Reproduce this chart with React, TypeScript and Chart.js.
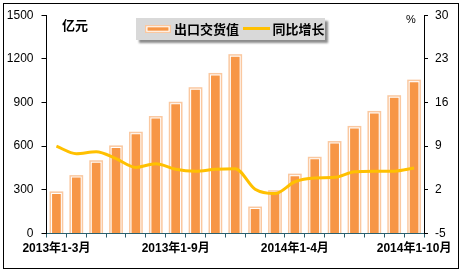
import React, { useEffect, useRef } from "react";
import { Chart, registerables } from "chart.js";

Chart.register(...registerables);

const categories = [
  "2013年1-3月", "2013年1-4月", "2013年1-5月", "2013年1-6月", "2013年1-7月",
  "2013年1-8月", "2013年1-9月", "2013年1-10月", "2013年1-11月", "2013年1-12月",
  "2014年1-2月", "2014年1-3月", "2014年1-4月", "2014年1-5月", "2014年1-6月",
  "2014年1-7月", "2014年1-8月", "2014年1-9月", "2014年1-10月",
];
const exportValues = [272, 384, 486, 588, 682, 790, 888, 988, 1086, 1215, 168, 280, 394, 510, 618, 722, 825, 933, 1040];
const growthValues = [9.0, 7.8, 8.1, 7.0, 5.6, 6.2, 5.3, 5.0, 5.3, 5.4, 2.1, 1.4, 3.3, 3.9, 4.0, 4.9, 5.0, 5.0, 5.5];
const leftTicks = { min: 0, max: 1500, step: 300 };
const rightTicks = { min: -5, max: 30, step: 7 };
const seriesNames = ["出口交货值", "同比增长"];
const leftUnit = "亿元";
const rightUnit = "%";

const ORANGE = "#F79646";
const PEACH = "#FAC8A0";
const GOLD = "#FFC000";
const AXIS_TEAL = "#2B6170";
const LATIN = '"Liberation Sans", Arial, "Noto Sans CJK SC", sans-serif';
const CJK = '"Noto Sans CJK SC", "Liberation Sans", sans-serif';

const barFramePlugin = {
  id: "barFrame",
  beforeDatasetDraw(chart: any, args: any) {
    const meta = args.meta;
    if (meta.type !== "bar") return;
    const ctx = chart.ctx;
    ctx.save();
    meta.data.forEach((el: any) => {
      const { x, y, base, width } = el.getProps(["x", "y", "base", "width"], true);
      ctx.fillStyle = PEACH;
      ctx.fillRect(x - width / 2 - 2.5, y - 2.5, width + 5, base - y + 2.5);
      ctx.fillStyle = "#ffffff";
      ctx.fillRect(x - width / 2 - 1, y - 1, width + 2, base - y + 1);
    });
    ctx.restore();
  },
};

const decorPlugin = {
  id: "decor",
  afterDraw(chart: any) {
    const ctx = chart.ctx;
    ctx.save();
    ctx.strokeStyle = "#000";
    ctx.lineWidth = 1;
    ctx.strokeRect(3.5, 3.5, 455, 265);

    ctx.fillStyle = "#000";
    ctx.font = `bold 13px ${CJK}`;
    ctx.textBaseline = "middle";
    ctx.textAlign = "left";
    ctx.fillText(leftUnit, 62, 25);
    ctx.font = `11px ${LATIN}`;
    ctx.textAlign = "center";
    ctx.fillText(rightUnit, 411, 19.5);

    ctx.save();
    ctx.shadowColor = "rgba(0,0,0,0.45)";
    ctx.shadowOffsetX = 3;
    ctx.shadowOffsetY = 3;
    ctx.shadowBlur = 2;
    ctx.fillStyle = "#d9d9d9";
    ctx.fillRect(136, 18, 189, 22);
    ctx.restore();

    ctx.fillStyle = PEACH;
    ctx.fillRect(145, 25, 26, 8);
    ctx.fillStyle = "#fff";
    ctx.fillRect(146.3, 26.3, 23.4, 5.4);
    ctx.fillStyle = ORANGE;
    ctx.fillRect(147.5, 27.3, 21, 3.4);

    ctx.fillStyle = "#000";
    ctx.font = `bold 13px ${CJK}`;
    ctx.textAlign = "left";
    ctx.textBaseline = "middle";
    ctx.fillText(seriesNames[0], 174, 29.5);

    ctx.strokeStyle = GOLD;
    ctx.lineWidth = 3;
    ctx.beginPath();
    ctx.moveTo(243, 28.5);
    ctx.lineTo(270, 28.5);
    ctx.stroke();

    ctx.fillText(seriesNames[1], 272.5, 29.5);
    ctx.restore();
  },
};

export default function App() {
  const ref = useRef<HTMLCanvasElement>(null);

  useEffect(() => {
    if (!ref.current) return;
    const chart = new Chart(ref.current, {
      type: "bar",
      data: {
        labels: categories,
        datasets: [
          {
            type: "line",
            label: seriesNames[1],
            data: growthValues,
            yAxisID: "y1",
            borderColor: GOLD,
            backgroundColor: GOLD,
            borderWidth: 3,
            pointRadius: 0,
            cubicInterpolationMode: "monotone",
            order: 0,
          } as any,
          {
            type: "bar",
            label: seriesNames[0],
            data: exportValues,
            yAxisID: "y",
            backgroundColor: ORANGE,
            borderWidth: 0,
            barPercentage: 0.44,
            categoryPercentage: 1,
            order: 1,
          },
        ],
      },
      options: {
        responsive: false,
        animation: false,
        devicePixelRatio: 1,
        layout: { padding: { left: 0, right: 0, top: 14, bottom: 0 } },
        plugins: { legend: { display: false }, tooltip: { enabled: false } },
        scales: {
          x: {
            offset: true,
            grid: { offset: true, drawOnChartArea: false, drawTicks: true, tickLength: 4, color: AXIS_TEAL },
            border: { color: AXIS_TEAL, width: 1 },
            ticks: {
              autoSkip: false,
              maxRotation: 0,
              minRotation: 0,
              padding: 4,
              color: "#000",
              font: { family: LATIN, size: 12, weight: "bold" },
              callback: (_v: any, i: number) => (i % 6 === 0 ? categories[i] : ""),
            },
            afterFit: (s: any) => { s.height = 40.5; },
          },
          y: {
            position: "left",
            min: leftTicks.min,
            max: leftTicks.max,
            grid: { drawOnChartArea: false, drawTicks: true, tickLength: 5, color: "#000" },
            border: { color: "#000", width: 1 },
            ticks: {
              stepSize: leftTicks.step,
              padding: 8,
              color: "#000",
              font: { family: LATIN, size: 12 },
              callback: (v: any) => String(v),
            },
            afterFit: (s: any) => { s.width = 46.5; },
          },
          y1: {
            position: "right",
            min: rightTicks.min,
            max: rightTicks.max,
            grid: { drawOnChartArea: false, drawTicks: true, tickLength: 4, color: "#000" },
            border: { color: "#000", width: 1 },
            ticks: {
              stepSize: rightTicks.step,
              padding: 7,
              color: "#000",
              font: { family: LATIN, size: 12 },
              callback: (v: any) => String(v),
            },
            afterFit: (s: any) => { s.width = 38; },
          },
        },
      },
      plugins: [barFramePlugin, decorPlugin],
    });
    return () => chart.destroy();
  }, []);

  return (
    <div style={{ position: "absolute", left: 0, top: 0, width: 462, height: 274, background: "#fff" }}>
      <canvas ref={ref} width={462} height={274} style={{ display: "block" }} />
    </div>
  );
}
